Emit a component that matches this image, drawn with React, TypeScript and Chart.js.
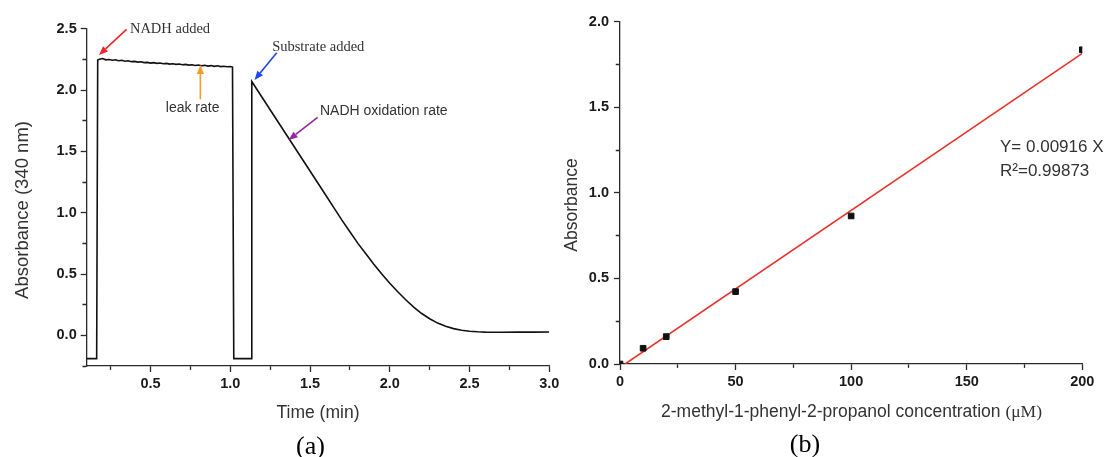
import React, { useEffect, useRef } from 'react';
import { Chart, registerables } from 'chart.js';

Chart.register(...registerables);

// ---------- Panel (a): kinetic trace ----------
const kineticTime = [
  0.1, 0.1625, 0.169,
  0.18, 0.2, 0.22, 0.24, 0.26, 0.28, 0.3, 0.32, 0.34, 0.36, 0.38, 0.4, 0.42, 0.44, 0.46, 0.48,
  0.5, 0.52, 0.54, 0.56, 0.58, 0.6, 0.62, 0.64, 0.66, 0.68, 0.7, 0.72, 0.74, 0.76, 0.78, 0.8,
  0.82, 0.84, 0.86, 0.88, 0.9, 0.92, 0.94, 0.96, 0.98, 1.0, 1.014,
  1.022, 1.131, 1.135,
  1.2, 1.25, 1.3, 1.35, 1.4, 1.45, 1.5, 1.55, 1.6, 1.65, 1.7, 1.75, 1.8, 1.85, 1.9, 1.95,
  2.0, 2.05, 2.1, 2.15, 2.2, 2.25, 2.3, 2.35, 2.4, 2.45, 2.5, 2.55, 2.6, 2.7, 2.8, 2.9, 3.0,
];
const kineticAbs = [
  -0.19, -0.19, 2.245,
  2.252, 2.258, 2.247, 2.25, 2.244, 2.248, 2.24, 2.243, 2.236, 2.239, 2.232, 2.234, 2.228, 2.231, 2.224, 2.226,
  2.22, 2.224, 2.218, 2.221, 2.215, 2.218, 2.212, 2.215, 2.21, 2.213, 2.207, 2.21, 2.204, 2.207, 2.201, 2.205,
  2.199, 2.202, 2.196, 2.2, 2.194, 2.198, 2.192, 2.195, 2.19, 2.193, 2.188,
  -0.19, -0.19, 2.07,
  1.94, 1.84, 1.74, 1.64, 1.54, 1.44, 1.34, 1.24, 1.14, 1.04, 0.94, 0.845, 0.75, 0.665, 0.58, 0.5,
  0.425, 0.355, 0.29, 0.23, 0.178, 0.135, 0.1, 0.074, 0.055, 0.042, 0.034, 0.029, 0.026, 0.025, 0.026, 0.026, 0.027,
];
const xLabelsA = [0.5, 1.0, 1.5, 2.0, 2.5, 3.0];
const yLabelsA = [0.0, 0.5, 1.0, 1.5, 2.0, 2.5];

// ---------- Panel (b): calibration ----------
const concentration = [0, 10, 20, 50, 100, 200];
const absorbanceB = [0.0, 0.092, 0.16, 0.423, 0.865, 1.836];
const fitX = [2.2, 200];
const fitY = [0, 1.815];
const xLabelsB = [0, 50, 100, 150, 200];
const yLabelsB = [0.0, 0.5, 1.0, 1.5, 2.0];

// annotation anchors (data coordinates of panel a)
const arrowsA = [
  { from: [0.35, 2.496], to: [0.177, 2.286], color: '#f0262a' },
  { from: [0.8125, 1.925], to: [0.8125, 2.205], color: '#f99b2a' },
  { from: [1.291, 2.305], to: [1.152, 2.082], color: '#1f45ec' },
  { from: [1.5475, 1.778], to: [1.366, 1.593], color: '#8e2a9c' },
];
const notesA = [
  { text: 'NADH added', at: [0.371, 2.498], align: 'left', serif: true },
  { text: 'leak rate', at: [0.764, 1.854], align: 'center', serif: false },
  { text: 'Substrate added', at: [1.2625, 2.354], align: 'left', serif: true },
  { text: 'NADH oxidation rate', at: [1.5625, 1.83], align: 'left', serif: false },
];

const SANS = '"Liberation Sans", Arial, Helvetica, sans-serif';
const SERIF = '"Liberation Serif", "Times New Roman", serif';
const AX = '#2a2a2a';
const TXT = '#333333';

const inList = (v: number, list: number[]) => list.some((l) => Math.abs(l - v) < 1e-6);

function drawArrow(ctx: CanvasRenderingContext2D, x1: number, y1: number, x2: number, y2: number, color: string) {
  const ang = Math.atan2(y2 - y1, x2 - x1);
  const head = 9;
  const hw = 3.6;
  const bx = x2 - head * Math.cos(ang);
  const by = y2 - head * Math.sin(ang);
  ctx.strokeStyle = color;
  ctx.lineWidth = 1.6;
  ctx.beginPath();
  ctx.moveTo(x1, y1);
  ctx.lineTo(bx, by);
  ctx.stroke();
  ctx.fillStyle = color;
  ctx.beginPath();
  ctx.moveTo(x2, y2);
  ctx.lineTo(bx + hw * Math.sin(ang), by - hw * Math.cos(ang));
  ctx.lineTo(bx - hw * Math.sin(ang), by + hw * Math.cos(ang));
  ctx.closePath();
  ctx.fill();
}

function axisCommon(labels: number[], fmt: (v: number) => string, horizontal: boolean, pad: number) {
  return {
    type: 'linear' as const,
    border: { display: true, color: AX, width: 1.3 },
    grid: {
      drawOnChartArea: false,
      drawTicks: true,
      tickLength: 6,
      tickColor: AX,
      tickWidth: 1.3,
      tickBorderDash: (c: any) => {
        const v = c.tick ? c.tick.value : 0;
        if (inList(v, labels)) return [];
        return horizontal ? [3.6, 100] : [0, 1.75, 3.6, 100];
      },
    },
    ticks: {
      autoSkip: false,
      maxRotation: 0,
      minRotation: 0,
      includeBounds: false,
      padding: pad,
      color: '#1a1a1a',
      font: { family: SANS, size: 14.5, weight: 'bold' as const },
      callback: (v: any) => (inList(Number(v), labels) ? fmt(Number(v)) : ''),
    },
  };
}

export default function App() {
  const refA = useRef<HTMLCanvasElement | null>(null);
  const refB = useRef<HTMLCanvasElement | null>(null);

  useEffect(() => {
    const annotA = {
      id: 'annotA',
      afterDraw(chart: any) {
        const { ctx, scales } = chart;
        const sx = scales.x;
        const sy = scales.y;
        ctx.save();
        arrowsA.forEach((a) =>
          drawArrow(ctx, sx.getPixelForValue(a.from[0]), sy.getPixelForValue(a.from[1]), sx.getPixelForValue(a.to[0]), sy.getPixelForValue(a.to[1]), a.color)
        );
        notesA.forEach((n) => {
          ctx.font = n.serif ? `14.5px ${SERIF}` : `14px ${SANS}`;
          ctx.fillStyle = TXT;
          ctx.textAlign = n.align;
          ctx.textBaseline = 'middle';
          ctx.fillText(n.text, sx.getPixelForValue(n.at[0]), sy.getPixelForValue(n.at[1]));
        });
        // axis titles
        ctx.fillStyle = TXT;
        ctx.font = `18.5px ${SANS}`;
        ctx.textAlign = 'center';
        ctx.textBaseline = 'alphabetic';
        ctx.save();
        ctx.translate(28.3, 210);
        ctx.rotate(-Math.PI / 2);
        ctx.fillText('Absorbance (340 nm)', 0, 0);
        ctx.restore();
        ctx.font = `17.5px ${SANS}`;
        ctx.fillText('Time (min)', 318, 418.3);
        ctx.fillStyle = '#000';
        ctx.font = `26px ${SERIF}`;
        ctx.fillText('(a)', 310.5, 453.5);
        ctx.restore();
      },
    };

    const chartA = new Chart(refA.current as HTMLCanvasElement, {
      type: 'scatter',
      data: {
        datasets: [
          {
            data: kineticTime.map((t, i) => ({ x: t, y: kineticAbs[i] })),
            showLine: true,
            borderColor: '#111',
            borderWidth: 1.6,
            pointRadius: 0,
            tension: 0,
            fill: false,
          },
        ],
      },
      options: {
        animation: false,
        responsive: false,
        devicePixelRatio: 1,
        layout: { padding: { left: 0, top: 28.8, right: 25.7, bottom: 0 } },
        plugins: { legend: { display: false }, tooltip: { enabled: false } },
        scales: {
          x: {
            ...axisCommon(xLabelsA, (v) => v.toFixed(1), true, 3),
            min: 0.1,
            max: 3.0,
            afterFit: (s: any) => {
              s.height = 91;
            },
            ticks: { ...axisCommon(xLabelsA, (v) => v.toFixed(1), true, 3).ticks, stepSize: 0.25 },
          },
          y: {
            ...axisCommon(yLabelsA, (v) => v.toFixed(1), false, 4),
            min: -0.25,
            max: 2.5,
            afterFit: (s: any) => {
              s.width = 86.7;
            },
            ticks: { ...axisCommon(yLabelsA, (v) => v.toFixed(1), false, 4).ticks, stepSize: 0.25 },
          },
        },
      } as any,
      plugins: [annotA],
    });

    const annotB = {
      id: 'annotB',
      afterDraw(chart: any) {
        const { ctx, scales } = chart;
        const sx = scales.x;
        const sy = scales.y;
        ctx.save();
        ctx.fillStyle = TXT;
        ctx.font = `17px ${SANS}`;
        ctx.textAlign = 'left';
        ctx.textBaseline = 'alphabetic';
        ctx.fillText('Y= 0.00916 X', sx.getPixelForValue(164.4), sy.getPixelForValue(1.2404));
        ctx.fillText('R²=0.99873', sx.getPixelForValue(164.4), sy.getPixelForValue(1.0985));
        // y title
        ctx.font = `17.5px ${SANS}`;
        ctx.textAlign = 'center';
        ctx.save();
        ctx.translate(16.7, 205);
        ctx.rotate(-Math.PI / 2);
        ctx.fillText('Absorbance', 0, 0);
        ctx.restore();
        // x title (sans + serif unit)
        const part1 = '2-methyl-1-phenyl-2-propanol concentration ';
        const part2 = '(μM)';
        ctx.font = `17.5px ${SANS}`;
        const w1 = ctx.measureText(part1).width;
        ctx.font = `17.5px ${SERIF}`;
        const w2 = ctx.measureText(part2).width;
        const start = 291.5 - (w1 + w2) / 2;
        ctx.textAlign = 'left';
        ctx.font = `17.5px ${SANS}`;
        ctx.fillText(part1, start, 416.7);
        ctx.font = `17.5px ${SERIF}`;
        ctx.fillText(part2, start + w1, 416.7);
        ctx.fillStyle = '#000';
        ctx.font = `26px ${SERIF}`;
        ctx.textAlign = 'center';
        ctx.fillText('(b)', 245, 451.7);
        ctx.restore();
      },
    };

    const chartB = new Chart(refB.current as HTMLCanvasElement, {
      type: 'scatter',
      data: {
        datasets: [
          {
            data: concentration.map((c, i) => ({ x: c, y: absorbanceB[i] })),
            showLine: false,
            pointStyle: 'rect',
            pointRadius: 4,
            pointBackgroundColor: '#111',
            pointBorderColor: '#111',
            pointBorderWidth: 1,
            clip: { left: 0, top: 10, right: 0, bottom: 0 },
          },
          {
            data: fitX.map((x, i) => ({ x, y: fitY[i] })),
            showLine: true,
            borderColor: '#e8332d',
            borderWidth: 1.6,
            pointRadius: 0,
            tension: 0,
          },
        ],
      },
      options: {
        animation: false,
        responsive: false,
        devicePixelRatio: 1,
        layout: { padding: { left: 0, top: 21.7, right: 27.7, bottom: 0 } },
        plugins: { legend: { display: false }, tooltip: { enabled: false } },
        scales: {
          x: {
            ...axisCommon(xLabelsB, (v) => String(Math.round(v)), true, 3.5),
            min: 0,
            max: 200,
            afterFit: (s: any) => {
              s.height = 93;
            },
            ticks: { ...axisCommon(xLabelsB, (v) => String(Math.round(v)), true, 3.5).ticks, stepSize: 25 },
          },
          y: {
            ...axisCommon(yLabelsB, (v) => v.toFixed(1), false, 5),
            min: 0,
            max: 2,
            afterFit: (s: any) => {
              s.width = 60;
            },
            ticks: { ...axisCommon(yLabelsB, (v) => v.toFixed(1), false, 5).ticks, stepSize: 0.25 },
          },
        },
      } as any,
      plugins: [annotB],
    });

    return () => {
      chartA.destroy();
      chartB.destroy();
    };
  }, []);

  return (
    <div style={{ position: 'fixed', left: 0, top: 0, width: 1110, height: 457, background: '#fff', overflow: 'hidden' }}>
      <canvas ref={refA} width={575} height={457} style={{ position: 'absolute', left: 0, top: 0, width: 575, height: 457 }} />
      <canvas ref={refB} width={550} height={457} style={{ position: 'absolute', left: 560, top: 0, width: 550, height: 457 }} />
    </div>
  );
}
